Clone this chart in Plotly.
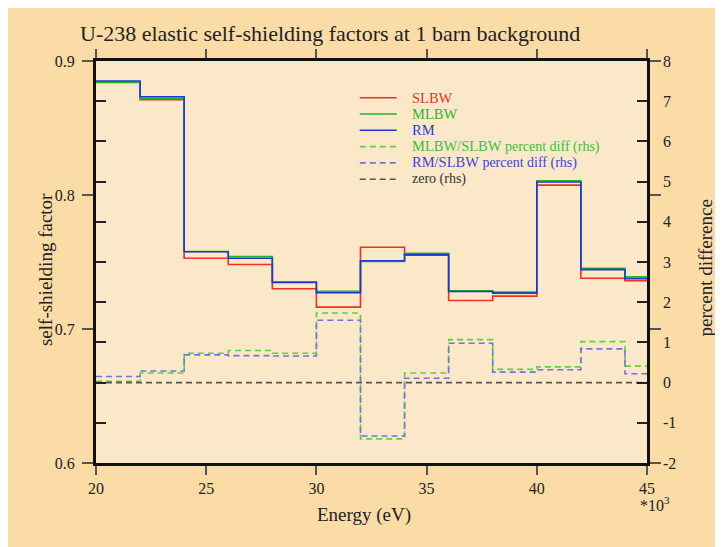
import plotly.graph_objects as go

# Energy bin edges (units of 10^3 eV)
bin_edges = [20, 22, 24, 26, 28, 30, 32, 34, 36, 38, 40, 42, 44, 45]

# Self-shielding factors per bin (left axis)
slbw = [0.8840, 0.8712, 0.7528, 0.7481, 0.7300, 0.7163, 0.7610, 0.7550, 0.7213, 0.7245, 0.8074, 0.7379, 0.7360]
mlbw = [0.8842, 0.8722, 0.7578, 0.7541, 0.7352, 0.7282, 0.7504, 0.7565, 0.7286, 0.7275, 0.8106, 0.7453, 0.7389]
rm   = [0.8851, 0.8733, 0.7577, 0.7528, 0.7347, 0.7270, 0.7509, 0.7555, 0.7280, 0.7268, 0.8097, 0.7443, 0.7376]

# Percent differences per bin (right axis)
mlbw_pct = [0.03, 0.24, 0.73, 0.80, 0.73, 1.73, -1.40, 0.24, 1.07, 0.33, 0.39, 1.02, 0.41]
rm_pct   = [0.15, 0.29, 0.69, 0.67, 0.66, 1.55, -1.33, 0.11, 0.98, 0.26, 0.32, 0.84, 0.22]
zero_line = [0.0] * 13

x_ticks = [20, 25, 30, 35, 40, 45]
y_ticks = [0.6, 0.7, 0.8, 0.9]
y2_ticks = [-2, -1, 0, 1, 2, 3, 4, 5, 6, 7, 8]

SERIF = "Liberation Serif, Times New Roman, serif"
PEACH = "#fbdba6"
PLOTBG = "#fae8c9"
TXT = "#222222"

# page offset of the figure (browser body margin)
OX, OY = 8, 8
W, H = 715, 539
# plot area in screenshot pixels
PX0, PX1, PY0, PY1 = 96, 647.5, 61, 463
L, T = PX0 - OX, PY0 - OY
R = W - (PX1 - OX)
B = H - (PY1 - OY)
PW, PH = PX1 - PX0, PY1 - PY0


def px2x(px):
    return (px - PX0) / PW


def px2y(py):
    return (PY1 - py) / PH


def step(vals):
    return list(vals) + [vals[-1]]


fig = go.Figure()

series = [
    (slbw, "#ee3322", "solid", "y", [("SLBW", "#e8352a", 14.5)]),
    (mlbw, "#22b922", "solid", "y", [("MLBW", "#2fb52f", 14.5)]),
    (rm, "#2233dd", "solid", "y", [("RM", "#2a3ad8", 14.5)]),
    (mlbw_pct, "#66cc44", "6px,4px", "y2",
     [("MLBW/SLBW", "#3cbf3c", 14.5), (" percent diff (rhs)", "#3cbf3c", 14)]),
    (rm_pct, "#7373dd", "6px,4px", "y2",
     [("RM/SLBW", "#3a46d8", 14.5), (" percent diff (rhs)", "#3a46d8", 14)]),
    (zero_line, "#555555", "6px,4px", "y2", [("zero (rhs)", "#333333", 14)]),
]

for vals, color, dash, yax, parts in series:
    name = "".join(p[0] for p in parts)
    fig.add_trace(go.Scatter(
        x=bin_edges, y=step(vals), mode="lines", name=name, showlegend=False,
        line=dict(color=color, width=1.6, dash=dash, shape="hv"),
        yaxis=yax,
    ))

# Legend (drawn as keys + coloured labels)
leg_y0, leg_dy = 97.7, 16.3
for i, (vals, color, dash, yax, parts) in enumerate(series):
    yy = px2y(leg_y0 + i * leg_dy)
    fig.add_shape(type="line", xref="paper", yref="paper",
                  x0=px2x(360), x1=px2x(397), y0=yy, y1=yy,
                  line=dict(color=color, width=1.6, dash=dash))
    label = "".join(
        f"<span style='color:{c};font-size:{s}px'>{t}</span>" for t, c, s in parts
    )
    fig.add_annotation(text=label, xref="paper", yref="paper",
                       x=px2x(410), y=yy, xanchor="left", yanchor="middle",
                       showarrow=False, font=dict(family=SERIF, size=14, color=TXT))

fig.update_layout(
    width=W, height=H,
    margin=dict(l=L, r=R, t=T, b=B, pad=0),
    paper_bgcolor=PEACH,
    plot_bgcolor=PLOTBG,
    font=dict(family=SERIF, size=15, color=TXT),
    showlegend=False,
    title=dict(
        text="U-238 elastic self-shielding factors at 1 barn background",
        x=(80 - OX) / W, xref="container", xanchor="left",
        y=1 - (33 - OY) / H, yref="container", yanchor="middle",
        font=dict(family=SERIF, size=22, color=TXT),
    ),
    xaxis=dict(
        range=[20, 45], tickvals=x_ticks, ticktext=[str(v) for v in x_ticks],
        showgrid=False, zeroline=False,
        showline=True, linecolor="#111111", linewidth=3, mirror="allticks",
        ticks="outside", ticklen=9, tickwidth=2, tickcolor="#555555",
        tickfont=dict(family=SERIF, size=16, color=TXT),
    ),
    yaxis=dict(
        range=[0.6, 0.9], tickvals=y_ticks, ticktext=["0.6", "0.7", "0.8", "0.9"],
        showgrid=False, zeroline=False,
        showline=True, linecolor="#111111", linewidth=3, mirror="allticks",
        ticks="outside", ticklen=11, tickwidth=2, tickcolor="#555555",
        ticklabelstandoff=4,
        tickfont=dict(family=SERIF, size=16, color=TXT),
    ),
    yaxis2=dict(
        range=[-2, 8], tickvals=y2_ticks, ticktext=[str(v) for v in y2_ticks],
        overlaying="y", side="right", anchor="x",
        showgrid=False, zeroline=False,
        showline=False, mirror="allticks",
        ticks="inside", ticklen=10, tickwidth=2, tickcolor="#222222",
        ticklabelstandoff=15,
        tickfont=dict(family=SERIF, size=16, color=TXT),
    ),
)

# Axis titles and multiplier
fig.add_annotation(text="self-shielding factor", textangle=-90, xref="paper", yref="paper",
                   x=px2x(45), y=px2y(270), xanchor="center", yanchor="middle",
                   showarrow=False, font=dict(family=SERIF, size=19, color=TXT))
fig.add_annotation(text="percent difference", textangle=-90, xref="paper", yref="paper",
                   x=px2x(706), y=px2y(268), xanchor="center", yanchor="middle",
                   showarrow=False, font=dict(family=SERIF, size=19, color=TXT))
fig.add_annotation(text="Energy (eV)", xref="paper", yref="paper",
                   x=px2x(364), y=px2y(515), xanchor="center", yanchor="middle",
                   showarrow=False, font=dict(family=SERIF, size=19, color=TXT))
fig.add_annotation(text="*10<sup>3</sup>", xref="paper", yref="paper",
                   x=px2x(656), y=px2y(504), xanchor="center", yanchor="middle",
                   showarrow=False, font=dict(family=SERIF, size=16, color=TXT))

fig.write_html("out.html")
